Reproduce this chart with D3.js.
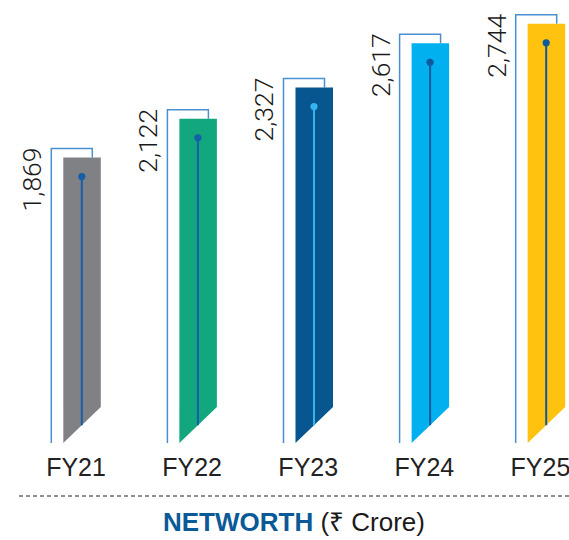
<!DOCTYPE html>
<html>
<head>
<meta charset="utf-8">
<script src="https://cdn.jsdelivr.net/npm/d3@7/dist/d3.min.js"></script>
<style>
  html, body { margin: 0; padding: 0; background: #fff; }
  svg { display: block; }
</style>
</head>
<body>
<svg id="chart" width="569" height="540"></svg>
<script>
const categories = ["FY21", "FY22", "FY23", "FY24", "FY25"];
const values = [1869, 2122, 2327, 2617, 2744];
const valueLabels = ["1,869", "2,122", "2,327", "2,617", "2,744"];
const barColors = ["#808184", "#12a77d", "#07568f", "#00b0ef", "#ffc20f"];
const stemColors = ["#155fa8", "#155fa8", "#35b5f0", "#0f5a9c", "#0f5a9c"];

const svg = d3.select("#chart");
const baseY = 443;
const y = d3.scaleLinear().domain([0, 2900]).range([baseY, 0]);
const x = d3.scaleBand().domain(categories).range([51.3, 565.2]).paddingInner(0.5736).paddingOuter(0);

const barOffset = 12, barW = 37.5, cut = 36;

const g = svg.selectAll("g.item").data(categories).enter().append("g").attr("class", "item");

g.each(function(c, i) {
  const sel = d3.select(this);
  const bl = x(c);
  const left = bl + barOffset, right = left + barW;
  const top = y(values[i]);
  const bTop = top - 9;
  const cx = left + 18.5;
  // bracket
  sel.append("path")
    .attr("d", `M${bl},${baseY} L${bl},${bTop} L${bl + barOffset + 29},${bTop} L${bl + barOffset + 29},${top}`)
    .attr("fill", "none").attr("stroke", "#4b8fd3").attr("stroke-width", 1.5);
  // bar
  sel.append("path")
    .attr("d", `M${left},${top} L${right},${top} L${right},${baseY - cut} L${left},${baseY} Z`)
    .attr("fill", barColors[i]);
  // stem
  const stemBottom = baseY - cut * ((cx - left) / barW);
  sel.append("line")
    .attr("x1", cx).attr("x2", cx)
    .attr("y1", top + 19).attr("y2", stemBottom)
    .attr("stroke", stemColors[i]).attr("stroke-width", 2);
  sel.append("circle")
    .attr("cx", cx).attr("cy", top + 19).attr("r", 3.6)
    .attr("fill", stemColors[i]);
  // value label
  sel.append("text")
    .attr("transform", `translate(${bl - 10},${bTop - 1}) rotate(-90)`)
    .attr("text-anchor", "end")
    .attr("font-family", "Roboto, 'Liberation Sans', sans-serif")
    .attr("font-weight", 300)
    .attr("font-size", 26.5)
    .attr("fill", "#1a1a1a")
    .text(valueLabels[i]);
  // category label
  sel.append("text")
    .attr("x", bl + (barOffset + barW) / 2)
    .attr("y", 476)
    .attr("text-anchor", "middle")
    .attr("font-family", "'Liberation Sans', Arial, sans-serif")
    .attr("font-size", 25)
    .attr("fill", "#222")
    .text(c);
});

// dashed separator
svg.append("line")
  .attr("x1", 19).attr("x2", 569)
  .attr("y1", 496).attr("y2", 496)
  .attr("stroke", "#222").attr("stroke-width", 1)
  .attr("stroke-dasharray", "4,3");

// title
const t = svg.append("text")
  .attr("x", 163).attr("y", 531)
  .attr("font-family", "'Liberation Sans', Arial, sans-serif")
  .attr("font-size", 26);
t.append("tspan").attr("font-weight", "bold").attr("fill", "#0a5a97").text("NETWORTH");
t.append("tspan").attr("fill", "#1a1a1a").text(" (₹ Crore)");
</script>
</body>
</html>
